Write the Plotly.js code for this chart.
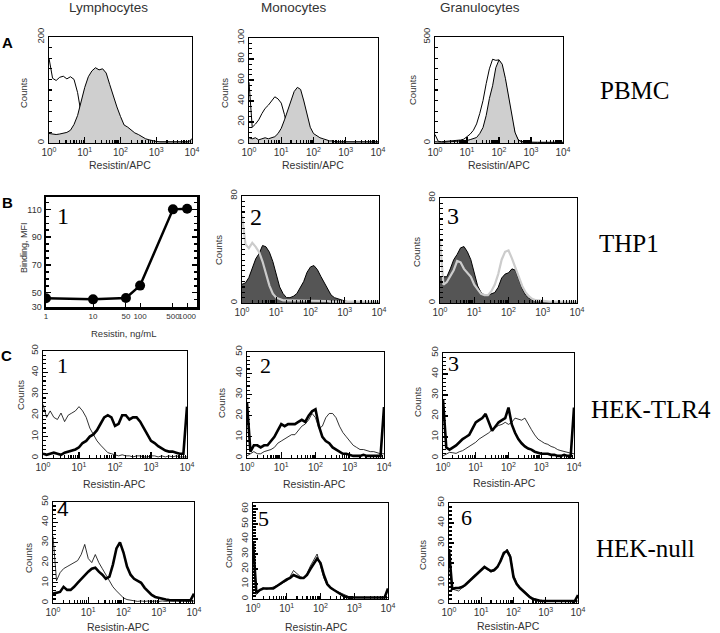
<!DOCTYPE html>
<html><head><meta charset="utf-8">
<script src="https://cdn.plot.ly/plotly-3.0.1.min.js"></script>
<style>html,body{margin:0;padding:0;background:#fff}#chart{width:720px;height:633px}</style>
</head><body><div id="chart"></div>
<script>
// ---- data: fluorescence channel (log10 decade exponent) grid shared by all histograms
const GRID = [0,0.1,0.2,0.3,0.4,0.5,0.6,0.7,0.8,0.9,1.0,1.1,1.2,1.3,1.4,1.5,1.6,1.7,1.8,1.9,2.0,2.1,2.2,2.3,2.4,2.5,2.6,2.7,2.8,2.9,3.0,3.1,3.2,3.3,3.4,3.5,3.6,3.7,3.8,3.9,4.0];
const X_TICKS = [1,10,100,1000,10000];
const X_TICKTEXT = ['10<sup>0</sup>','10<sup>1</sup>','10<sup>2</sup>','10<sup>3</sup>','10<sup>4</sup>'];

// Row A (PBMC) counts
const A1_open = [160,122,118,124,126,121,125,120,95,55, 28,14,7,4,3,2,2,2,2,2, 2,2,2,2,2,2,2,2,2,2, 2,2,2,2,2,2,2,2,2,2, 2];
const A1_fill = [18,17,16,17,18,20,24,35,52,78, 105,125,136,142,138,140,132,110,88,68, 50,34,30,25,19,16,12,8,6,4, 3,2,2,2,2,2,2,2,2,2, 8];
const A2_open = [58,15,18,22,28,33,36,40,44,42, 38,27,14,5,2,1,1,1,1,1, 1,1,1,1,1,1,1,1,1,1, 1,1,1,1,1,1,1,1,1,1, 1];
const A2_fill = [5,4,5,3,4,5,4,5,6,9, 14,22,31,40,49,53,51,40,26,15, 9,7,5,4,3,2,2,1,1,1, 1,1,1,1,1,1,1,1,1,1, 1];
const A3_open = [40,8,6,7,7,8,9,11,14,18, 28,42,60,90,140,200,280,350,395,390, 392,360,290,200,110,45,15,7,4,3, 3,3,3,3,3,3,3,3,3,3, 3];
const A3_fill = [6,4,4,4,5,5,5,6,7,9, 12,16,20,26,45,73,130,210,270,355, 392,372,305,220,130,50,15,6,4,3, 3,3,3,3,3,3,3,3,3,3, 3];

// Row B (THP1)
const B1_conc = [1,10,50,100,500,1000];
const B1_mfi = [46,45.2,46.2,55.1,110,110.5];
const B1_xticks = [1,10,50,100,500,1000];
const B1_xtext = ['1','10','50','100','500','1000'];
const B1_yticks = [39.7,50,70,90,110];
const B1_ytext = ['30','50','70','90','110'];
const B2_dark = [14,15,19,26,33,37,43,42,38,31, 22,12,7,4,4,5,7,11,16,23, 27,28,25,20,15,10,6,4,3,2, 1.5,1,1,1,0.5,1,0.5,0.5,0.5,0.5, 0.5];
const B2_light = [66,44,41,45,42,38,31,21,13,7, 4,3,2,2,2,1.5,1.5,1.5,1.5,1.5, 1.5,1.5,1.5,1.5,1.5,1.5,1,1,1,1, 1,1,1,1,1,1,1,1,1,1, 1];
const B3_dark = [20,20,20,26,33,37,42,43,39,33, 22,13,8,6,6,7,8,12,19,22, 23,26,25,18,11,6,3.5,2.5,2,1.5, 1,1,1,1,1,1,1,1,1,1, 1];
const B3_light = [48,14,16,20,25,32,31,26,23,20, 14,10,7,6,6,9,14,22,33,39, 40,34,27,19,13,8,5,3,2,2, 1.5,1.5,1,1,1,1,1,1,1,1, 1];

// Row C (HEK-TLR4)
const C1_thin = [25,19,22,19,18,21,17,20,21,22, 24,22,19,14,11,8,6,4,2.5,2, 1.5,1,1.5,1,1,0.5,1,1,0.5,0.5, 1,1,0.5,1,0.5,1,0.5,1,0.5,0.5, 0.5];
const C1_thick = [2,1.5,2,2.5,2,1.5,2.5,3,3.5,4, 5,7,8,10,11,13,16,19,20,19, 15,16,20,20,18,19,19,17,14,11, 8,7,5.5,4.5,3.5,3,3,2.5,2,2, 24];
const C2_thin = [1,2,3,2,2,3,3.5,4,5,7, 8,9,10,11,11,13,15,16,18,21, 19,14,15,19,21,21,19,15,12,10, 8,6,5,4,4,3.5,3,3,2.5,2, 2];
const C2_thick = [26,3,6,6,5,6,6,8,10,13, 16,15,16,16,16,17,18,17,20,22, 23,15,10,8,7,5,4,3,2,2, 1.5,1,1,1,1.5,1,1,1,1,1, 24];
const C3_thin = [1,2,2.7,2.5,2.2,3,3.5,4.5,5.5,6.5, 7.5,9,10,11,12,13.5,14.5,15.5,16,17, 16,17,19,18.5,18,19,16,13.5,11,9, 8,7,6.5,5.5,5,4,3.5,3,2.7,2.3, 2];
const C3_thick = [28,5,4,5,6,7.5,9,10,11,14, 17,18,19,21,17,13,15,17,18,19, 24,16,12,9,7,5.5,4.5,4,3,2.5, 2,2,2,1.5,1.5,1,1,1.5,1,1, 24];

// Row D (HEK-null)
const D1_thin = [33,11,15,17,18,19,20,21,24,29, 22,20,24,20,17,14,11,8,6,4, 2.5,1.7,1.3,1,0.8,1,0.8,1,0.8,1, 0.8,1,0.8,1,0.8,1,0.8,1,0.8,1, 1];
const D1_thick = [4.6,5,5.5,8,6.5,6.5,8,10,12,13.5, 15.5,17,17.5,15.5,14,12,13,19,27,30, 25,18,14,12,11,10,7.5,5.5,4,3, 2.5,2,1.7,1.5,1.5,1.3,1.3,1.3,1.3,1.3, 4.6];
const D2_thin = [5,3,6,7.5,6.5,7,8,9,9.5,11, 12,15,19,17,15,14,17,22,26,30, 22,14,9,7,6,5,4,2.5,1.5,1, 1,1,1,1,1,1,1,1,1,1, 1];
const D2_thick = [38,4,6,7,7,7,7,8.5,10,12, 13,14,16,15,14,14,16,20,24,27, 24,16,10,7.5,6,4.5,3,1.8,1.2,1, 1,1,1,1,1,1,1,1,1,1, 7];
const D3_thin = [6,7,6.5,6,7.5,8.5,10,12.5,14,15, 17,17.5,16.5,15.5,16,17.5,22,24,27,24, 14,10,8,6.5,4.5,3.5,2.5,1.8,1.3,1, 1,1,1,1,1,1,1,1,1,1, 1];
const D3_thick = [27,7,7.5,7.5,8,9,10.5,12,13.5,15.5, 16.5,18,17,16,16.5,18,21,25,26,23, 13,9.5,7.5,6,4,3,2,1.5,1.2,1, 1,1,1,1,1,1,1,1,1,1, 4];

// ---- layout helpers
const W = 720, H = 633;
const SANS = 'Liberation Sans, Arial, sans-serif';
const SERIF = 'Liberation Serif, Times New Roman, serif';
const XV = GRID.map(e => Math.pow(10, e));

// plot boxes in pixels [left, right, top, bottom]
const BOX = [
  [49,192,37,143],[249,378,38,143],[435,563,37,143],
  [46,197,197,307],[242,379,196,303],[440,577,198,303],
  [43,187,351,458],[247,384,352,458],[443,574,353,458],
  [53,194,502,603],[253,388,503,599],[449,578,503,603]
];
function xd(i){ return [BOX[i][0]/W, BOX[i][1]/W]; }
function yd(i){ return [1-BOX[i][3]/H, 1-BOX[i][2]/H]; }
function ax(i){ return i===0 ? '' : String(i+1); }

const layout = {
  width: W, height: H, margin: {l:0,r:0,t:0,b:0},
  paper_bgcolor: '#fff', plot_bgcolor: '#fff', showlegend: false,
  annotations: []
};
const traces = [];

function histX(i){
  layout['xaxis'+ax(i)] = {
    domain: xd(i), anchor: 'y'+ax(i), type: 'log', range: [0,4],
    tickmode: 'array', tickvals: X_TICKS, ticktext: X_TICKTEXT, tickangle: 0,
    ticks: 'inside', ticklen: 6, tickwidth: 1.2, tickcolor: '#000',
    minor: {dtick: 'D1', ticks: 'inside', ticklen: 3.5, tickwidth: 1.2, tickcolor: '#000'},
    showline: true, mirror: true, linecolor: '#000', linewidth: 1.3,
    showgrid: false, zeroline: false, fixedrange: true,
    tickfont: {family: SANS, size: 10, color: '#333'}
  };
}
function histY(i, top, vals, mdt){
  layout['yaxis'+ax(i)] = {
    domain: yd(i), anchor: 'x'+ax(i), range: [0, top],
    tickmode: 'array', tickvals: vals, ticktext: vals.map(String),
    ticks: 'inside', ticklen: 5, tickwidth: 1.2, tickcolor: '#000', tickangle: -90,
    minor: {dtick: mdt, ticks: 'inside', ticklen: 3, tickwidth: 1.2, tickcolor: '#000'},
    showline: true, mirror: true, linecolor: '#000', linewidth: 1.3,
    showgrid: false, zeroline: false, fixedrange: true,
    tickfont: {family: SANS, size: 9.5, color: '#333'}
  };
}
function line(i, y, color, width, fill){
  const t = {x: XV, y: y, xaxis: 'x'+ax(i), yaxis: 'y'+ax(i), type: 'scatter', mode: 'lines',
    line: {shape: 'linear', color: color, width: width}, hoverinfo: 'skip'};
  if (fill) { t.fill = 'tozeroy'; t.fillcolor = fill; }
  traces.push(t);
}
function ann(text, px, py, font, extra){
  layout.annotations.push(Object.assign({text: text, x: px/W, y: 1-py/H, xref: 'paper', yref: 'paper',
    showarrow: false, xanchor: 'center', yanchor: 'middle', font: font}, extra || {}));
}
const fTitle = {family: SANS, size: 9.5, color: '#333'};
const fAx = {family: SANS, size: 10.5, color: '#333'};

// Row A
[[0,200,[0,200],20,A1_open,A1_fill],[1,100,[0,20,40,60,80,100],5,A2_open,A2_fill],[2,500,[0,500],50,A3_open,A3_fill]]
.forEach(p => { histX(p[0]); histY(p[0],p[1],p[2],p[3]); line(p[0],p[4],'#000',1); line(p[0],p[5],'#000',1,'#cfcfcf'); });
// Row B panel 2,3
histX(4); histY(4,80,[0,80],4); line(4,B2_dark,'#000',1,'#555555'); line(4,B2_light,'#cccccc',2.2);
histX(5); histY(5,80,[0,80],4); line(5,B3_dark,'#000',1,'#555555'); line(5,B3_light,'#cccccc',2.2);
// Row C
[[6,C1_thin,C1_thick],[7,C2_thin,C2_thick],[8,C3_thin,C3_thick]].forEach(p => {
  histX(p[0]); histY(p[0],50,[0,10,20,30,40,50],2); line(p[0],p[1],'#000',0.8); line(p[0],p[2],'#000',2.6);
});
// Row D
[[9,50,[0,10,20,30,40,50],D1_thin,D1_thick],[10,64,[0,10,20,30,40,50,60],D2_thin,D2_thick],[11,50,[0,10,20,30,40,50],D3_thin,D3_thick]].forEach(p => {
  histX(p[0]); histY(p[0],p[1],p[2],2); line(p[0],p[3],'#000',0.8); line(p[0],p[4],'#000',2.6);
});

// Panel B1: dose response
layout.xaxis4 = {domain: xd(3), anchor: 'y4', type: 'log', range: [0, 3.21],
  tickmode: 'array', tickvals: B1_xticks, ticktext: B1_xtext, tickangle: 0,
  ticks: 'inside', ticklen: 4, tickcolor: '#000',
  showline: true, mirror: true, linecolor: '#000', linewidth: 2.5,
  showgrid: false, zeroline: false, fixedrange: true,
  tickfont: {family: SANS, size: 8, color: '#333'}};
layout.yaxis4 = {domain: yd(3), anchor: 'x4', range: [39.7, 118.9],
  tickmode: 'array', tickvals: B1_yticks, ticktext: B1_ytext,
  ticks: 'inside', ticklen: 5, tickwidth: 1.5, tickcolor: '#000',
  minor: {dtick: 5, ticks: 'inside', ticklen: 3, tickwidth: 1.5, tickcolor: '#000'},
  showline: true, mirror: 'ticks', linecolor: '#000', linewidth: 2.5,
  showgrid: false, zeroline: false, fixedrange: true,
  tickfont: {family: SANS, size: 9, color: '#333'}};
traces.push({x: B1_conc, y: B1_mfi, xaxis: 'x4', yaxis: 'y4', type: 'scatter', mode: 'lines+markers',
  line: {color: '#000', width: 2.5}, marker: {color: '#000', size: 10}, hoverinfo: 'skip'});

// text
ann('Lymphocytes', 108, 8, {family: SANS, size: 13.5, color: '#333'});
ann('Monocytes', 294, 8, {family: SANS, size: 13.5, color: '#333'});
ann('Granulocytes', 480, 7, {family: SANS, size: 13.5, color: '#333'});
ann('<b>A</b>', 7, 43, {family: SANS, size: 15, color: '#000'});
ann('<b>B</b>', 7, 202, {family: SANS, size: 15, color: '#000'});
ann('<b>C</b>', 6, 355, {family: SANS, size: 15, color: '#000'});
ann('PBMC', 634, 90, {family: SERIF, size: 25, color: '#000'});
ann('THP1', 629, 243, {family: SERIF, size: 25, color: '#000'});
ann('HEK-TLR4', 651, 409, {family: SERIF, size: 25, color: '#000'});
ann('HEK-null', 645, 548, {family: SERIF, size: 25, color: '#000'});
// panel numbers
ann('1', 63, 216, {family: SERIF, size: 24, color: '#000'});
ann('2', 256, 217, {family: SERIF, size: 24, color: '#000'});
ann('3', 453, 216, {family: SERIF, size: 24, color: '#000'});
ann('1', 63, 365, {family: SERIF, size: 22, color: '#000'});
ann('2', 265, 365, {family: SERIF, size: 22, color: '#000'});
ann('3', 453, 363, {family: SERIF, size: 22, color: '#000'});
ann('4', 63, 508, {family: SANS, size: 21, color: '#000'});
ann('5', 263, 518, {family: SERIF, size: 22, color: '#000'});
ann('6', 466, 517, {family: SERIF, size: 22, color: '#000'});
// axis titles
ann('Resistin/APC', 120, 165, fAx);
ann('Resistin/APC', 313, 165, fAx);
ann('Resistin/APC', 499, 165, fAx);
ann('Resistin, ng/mL', 123, 333, fTitle);
ann('Binding, MFI', 24, 248, {family: SANS, size: 9, color: '#333'}, {textangle: -90});
[[24,93],[225,93],[412,90],[218,250],[416,252],[20,395],[222,403],[417,402],[28,558],[228,553],[422,555]]
  .forEach(p => ann('Counts', p[0], p[1], fTitle, {textangle: -90}));
[[115,484],[314,484],[505,483],[118,627],[316,627],[508,626]]
  .forEach(p => ann('Resistin-APC', p[0], p[1], fAx));

Plotly.newPlot('chart', traces, layout, {staticPlot: true, displayModeBar: false});
</script>
</body></html>
